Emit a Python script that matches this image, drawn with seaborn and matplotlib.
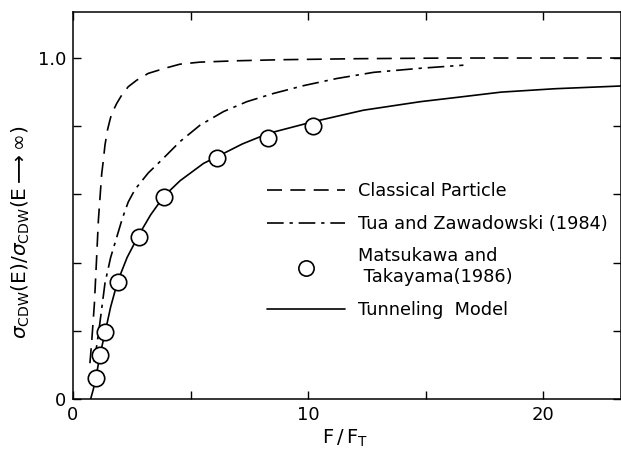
import numpy as np
import pandas as pd
import matplotlib
matplotlib.use("Agg")
import matplotlib.pyplot as plt
import seaborn as sns
from matplotlib.lines import Line2D
from matplotlib.ticker import FixedLocator, FixedFormatter

# ---- data ----
classical_x = [0.72, 0.79, 0.91, 1.0, 1.08, 1.22, 1.29, 1.36, 1.47, 1.57, 1.64, 1.86, 2.07, 2.35,
               2.71, 3.2, 3.91, 4.55, 5.4, 7.0, 8.8, 12.0, 16.0, 23.3]
classical_y = [0.105, 0.163, 0.28, 0.408, 0.525, 0.66, 0.70, 0.745, 0.79, 0.818, 0.836, 0.867, 0.891,
               0.916, 0.935, 0.955, 0.97, 0.982, 0.988, 0.992, 0.995, 0.998, 1.0, 1.0]

tua_x = [0.88, 0.94, 1.1, 1.36, 1.6, 1.84, 2.1, 2.35, 2.64, 3.2, 3.8, 4.55, 5.4, 6.4, 7.39, 8.52,
         9.8, 11.22, 12.78, 14.77, 16.6]
tua_y = [0.11, 0.124, 0.2, 0.34, 0.415, 0.47, 0.53, 0.578, 0.615, 0.663, 0.703, 0.755, 0.803, 0.843,
         0.872, 0.896, 0.919, 0.94, 0.958, 0.97, 0.979]

tunnel_x = [0.75, 0.87, 0.98, 1.15, 1.38, 1.6, 1.9, 2.3, 2.79, 3.3, 3.87, 4.55, 5.55, 6.11, 7.2,
            8.31, 10.2, 12.35, 14.77, 16.5, 18.2, 20.5, 23.3]
tunnel_y = [0.0, 0.03, 0.065, 0.13, 0.2, 0.27, 0.345, 0.415, 0.48, 0.54, 0.595, 0.64, 0.691, 0.71,
            0.748, 0.779, 0.813, 0.847, 0.872, 0.886, 0.9, 0.91, 0.918]

mt_x = [0.98, 1.15, 1.38, 1.90, 2.79, 3.87, 6.11, 8.31, 10.2]
mt_y = [0.061, 0.129, 0.196, 0.344, 0.476, 0.591, 0.706, 0.766, 0.80]

x_ticks = [0, 5, 10, 15, 20]
x_ticklabels = ["0", "", "10", "", "20"]
y_ticks = [0, 0.2, 0.4, 0.6, 0.8, 1.0]
y_ticklabels = ["0", "", "", "", "", "1.0"]

labels = ["Classical Particle", "Tua and Zawadowski (1984)",
          "Matsukawa and\n Takayama(1986)", "Tunneling  Model"]

# ---- plotting ----
sns.set_style("ticks")
plt.rcParams["font.family"] = ["DejaVu Sans"]
for k in ["text.color", "axes.labelcolor", "xtick.color", "ytick.color", "axes.edgecolor"]:
    plt.rcParams[k] = "black"

fig = plt.figure(figsize=(6.21, 4.57), dpi=100)
ax = fig.add_axes([73 / 621, 1 - 399 / 457, 548 / 621, 387 / 457])

lw = 1.2
dash_style = (0, (9, 5))
dashdot_style = (0, (10, 3.5, 2, 3.5))

df_c = pd.DataFrame({"x": classical_x, "y": classical_y})
df_t = pd.DataFrame({"x": tua_x, "y": tua_y})
df_n = pd.DataFrame({"x": tunnel_x, "y": tunnel_y})
df_m = pd.DataFrame({"x": mt_x, "y": mt_y})

sns.lineplot(data=df_c, x="x", y="y", ax=ax, color="black", lw=lw, sort=False,
             linestyle=dash_style)
sns.lineplot(data=df_t, x="x", y="y", ax=ax, color="black", lw=lw, sort=False,
             linestyle=dashdot_style)
sns.lineplot(data=df_n, x="x", y="y", ax=ax, color="black", lw=lw, sort=False)
sns.scatterplot(data=df_m, x="x", y="y", ax=ax, s=140, facecolor="white",
                edgecolor="black", linewidth=1.2, zorder=5)

ax.set_xlim(0, 23.3)
ax.set_ylim(0, 1.135)
ax.xaxis.set_major_locator(FixedLocator(x_ticks))
ax.xaxis.set_major_formatter(FixedFormatter(x_ticklabels))
ax.yaxis.set_major_locator(FixedLocator(y_ticks))
ax.yaxis.set_major_formatter(FixedFormatter(y_ticklabels))
ax.tick_params(direction="in", length=6, width=1, top=True, right=True,
               labelsize=13, colors="black", pad=5)
for s in ax.spines.values():
    s.set_linewidth(1.1)
    s.set_color("black")

ax.set_xlabel(r"$\mathrm{F\,/\,F_{T}}$", fontsize=14)
ax.xaxis.set_label_coords(0.496, -0.075)
ax.set_ylabel(r"$\sigma_{\mathrm{CDW}}\mathrm{(E)}/\sigma_{\mathrm{CDW}}\mathrm{(E\longrightarrow\infty)}$",
              fontsize=14.5)
ax.yaxis.set_label_coords(-0.075, 0.43)

handles = [
    Line2D([], [], color="black", lw=lw, linestyle=dash_style),
    Line2D([], [], color="black", lw=lw, linestyle=dashdot_style),
    Line2D([], [], color="black", lw=0, marker="o", markersize=11,
           markerfacecolor="white", markeredgecolor="black", markeredgewidth=1.2),
    Line2D([], [], color="black", lw=lw),
]
ax.legend(handles, labels, loc="upper left", bbox_to_anchor=(0.354, 0.56),
          frameon=False, fontsize=12.8, handlelength=4.4, handletextpad=0.72,
          labelspacing=0.82, borderpad=0, borderaxespad=0, labelcolor="black")

fig.savefig("out.png", dpi=100)
